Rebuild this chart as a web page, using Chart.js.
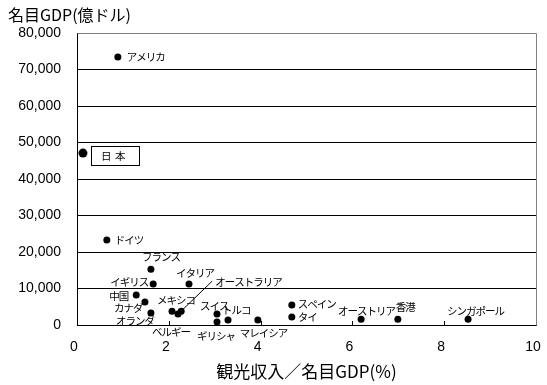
<!DOCTYPE html>
<html>
<head>
<meta charset="utf-8">
<script src="https://cdn.jsdelivr.net/npm/chart.js@4"></script>
<style>
  html, body { margin: 0; padding: 0; background: #fff; }
  #wrap { width: 547px; height: 385px; }
</style>
</head>
<body>
<div id="wrap"><canvas id="chart" width="547" height="385"></canvas></div>
<script>
// データ
const countries = ["アメリカ", "日本", "ドイツ", "フランス", "イギリス", "イタリア", "オーストラリア",
  "中国", "カナダ", "オランダ", "メキシコ", "ベルギー", "スイス", "ギリシャ", "トルコ",
  "マレイシア", "スペイン", "タイ", "オーストリア", "香港", "シンガポール"];
const tourismRatio = [0.89, 0.13, 0.65, 1.61, 1.66, 2.44, 2.27,
  1.29, 1.48, 1.61, 2.07, 2.20, 3.05, 3.05, 3.29,
  3.94, 4.68, 4.68, 6.19, 6.99, 8.52];
const nominalGdp = [73400, 47100, 23300, 15300, 11200, 11200, 3800,
  8200, 6300, 3300, 3800, 3000, 3000, 800, 1400,
  1400, 5500, 2200, 1600, 1600, 1600];
const xTicks = [0, 2, 4, 6, 8, 10];
const yTicks = [0, 10000, 20000, 30000, 40000, 50000, 60000, 70000, 80000];

// ラベルの位置 (点からのずれ)
const labelOffsets = [[9, 0], [18, 3], [8, 0], [-9, -12], [-43, -2], [-13, -11], [34, -29],
  [-27, 1], [-31, 6], [-35, 8], [-15, -11], [-26, 18], [-17, -8], [-20, 14], [-6, -10],
  [-18, 13], [6, -1], [6, 0], [-23, -8], [-2, -12], [-21, -8]];

const labelFont = "10.5px 'Noto Sans CJK JP'";
const tickFont = { family: "'Liberation Sans', Arial", size: 14 };

const labelPlugin = {
  id: "labels",
  afterDatasetsDraw(chart) {
    const ctx = chart.ctx;
    const meta = chart.getDatasetMeta(0);
    const area = chart.chartArea;
    const xs = chart.scales.x;
    ctx.save();

    // 上と右の枠
    ctx.strokeStyle = "#808080";
    ctx.lineWidth = 1;
    ctx.beginPath();
    ctx.moveTo(Math.round(area.left) + 0.5, Math.round(area.top) + 0.5);
    ctx.lineTo(Math.round(area.right) + 0.5, Math.round(area.top) + 0.5);
    ctx.lineTo(Math.round(area.right) + 0.5, Math.round(area.bottom) + 0.5);
    ctx.stroke();

    // x軸の目盛り (内向き)
    ctx.strokeStyle = "#000";
    xTicks.slice(1, -1).forEach(v => {
      const px = Math.round(xs.getPixelForValue(v)) + 0.5;
      ctx.beginPath();
      ctx.moveTo(px, area.bottom);
      ctx.lineTo(px, area.bottom - 4);
      ctx.stroke();
    });

    // 国名
    ctx.font = labelFont;
    ctx.letterSpacing = "-1px";
    ctx.fillStyle = "#000";
    ctx.textAlign = "left";
    ctx.textBaseline = "middle";
    meta.data.forEach((pt, i) => {
      const [dx, dy] = labelOffsets[i];
      let text = countries[i];
      if (text === "日本") {
        ctx.strokeStyle = "#000";
        ctx.strokeRect(Math.round(pt.x) + 8.5, Math.round(pt.y) - 6.5, 48, 19);
        ctx.fillText("日", pt.x + dx, pt.y + dy);
        ctx.fillText("本", pt.x + dx + 14, pt.y + dy);
        return;
      }
      ctx.fillText(text, pt.x + dx, pt.y + dy);
      if (countries[i] === "オーストラリア") {
        ctx.beginPath();
        ctx.moveTo(pt.x + 31, pt.y - 30);
        ctx.lineTo(pt.x + 2, pt.y - 2);
        ctx.stroke();
      }
    });

    // 軸タイトル
    ctx.letterSpacing = "0px";
    ctx.font = "16px 'Noto Sans CJK JP'";
    ctx.textBaseline = "middle";
    ctx.textAlign = "left";
    ctx.fillText("名目GDP(億ドル)", 8, 15);
    ctx.font = "17px 'Noto Sans CJK JP'";
    ctx.textAlign = "center";
    ctx.fillText("観光収入／名目GDP(%)", (area.left + area.right) / 2, 372);
    ctx.restore();
  }
};

new Chart(document.getElementById("chart"), {
  type: "scatter",
  data: {
    datasets: [{
      data: tourismRatio.map((x, i) => ({ x: x, y: nominalGdp[i] })),
      backgroundColor: "#000",
      borderColor: "#000",
      pointRadius: countries.map(c => c === "日本" ? 4.5 : 3.5),
      pointHoverRadius: countries.map(c => c === "日本" ? 4.5 : 3.5),
      borderWidth: 0
    }]
  },
  options: {
    responsive: false,
    animation: false,
    layout: { padding: { top: 33, right: 11, left: 0, bottom: 0 } },
    plugins: { legend: { display: false }, tooltip: { enabled: false } },
    scales: {
      x: {
        type: "linear",
        min: 0,
        max: 10,
        afterBuildTicks: s => { s.ticks = xTicks.map(v => ({ value: v })); },
        afterFit: s => { s.height = 60; s.paddingLeft = 0; s.paddingRight = 0; },
        grid: { display: false, drawTicks: false },
        border: { display: true, color: "#000", width: 1 },
        ticks: { color: "#000", font: tickFont, padding: 14, labelOffset: -3, maxRotation: 0 }
      },
      y: {
        type: "linear",
        min: 0,
        max: 80000,
        afterBuildTicks: s => { s.ticks = yTicks.map(v => ({ value: v })); },
        afterFit: s => { s.width = 77; s.paddingTop = 0; s.paddingBottom = 0; },
        grid: {
          drawTicks: false,
          color: c => c.tick && c.tick.value === 80000 ? "#808080" : "#000",
          lineWidth: 1
        },
        border: { display: true, color: "#000", width: 1 },
        ticks: {
          color: "#000",
          font: tickFont,
          padding: 16,
          callback: v => v.toLocaleString("en-US")
        }
      }
    }
  },
  plugins: [labelPlugin]
});
</script>
</body>
</html>
